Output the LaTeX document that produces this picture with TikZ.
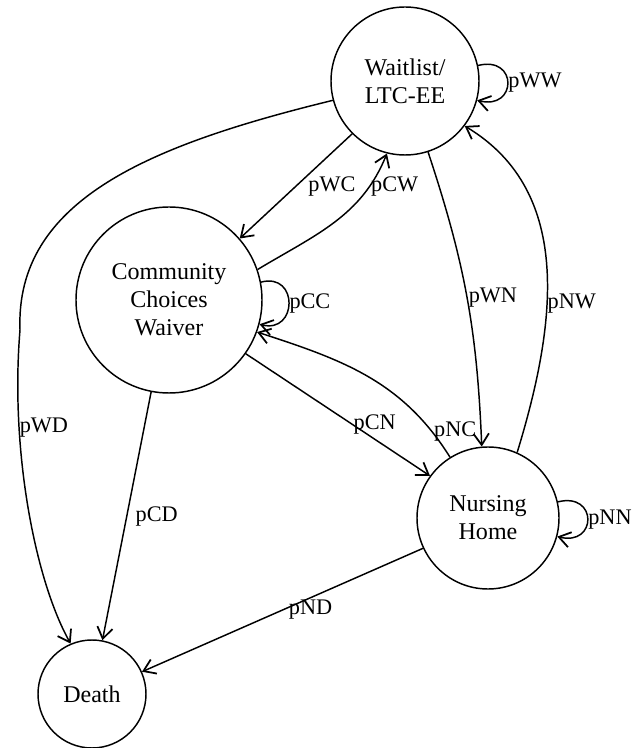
\documentclass[tikz,border=0pt]{standalone}
\usepackage{fontspec}
\setmainfont{Liberation Serif}
\usetikzlibrary{arrows.meta}

\begin{document}
\begin{tikzpicture}[x=0.03cm, y=0.03cm, line width=1.25pt,
  >={Straight Barb[length=3.4mm,width=4.6mm,line width=1.5pt]},
  state/.style={circle, draw, inner sep=0pt, align=center, font=\fontsize{20.5}{24}\selectfont},
  prob/.style={inner sep=1pt, font=\fontsize{19}{22}\selectfont}]

\useasboundingbox (0,0) rectangle (633,748);

\node[state, minimum size=4.44cm] (W) at (405,667) {Waitlist/\\LTC-EE};
\node[state, minimum size=5.58cm] (C) at (169,448) {Community\\Choices\\Waiver};
\node[state, minimum size=4.26cm] (N) at (488,230) {Nursing\\Home};
\node[state, minimum size=3.24cm] (D) at (92,54) {Death};

\draw[->] (W.12) .. controls +(40,10) and +(40,-10) .. node[prob, right, inner sep=0pt]{pWW} (W.345);
\draw[->] (C.11) .. controls +(38,10) and +(38,-10) .. node[prob, right, inner sep=0pt]{pCC} (C.345);
\draw[->] (N.13) .. controls +(40,10) and +(40,-10) .. node[prob, right, inner sep=0pt]{pNN} (N.345);

\draw[->] (W.225) -- node[prob, pos=0.5, right=9pt]{pWC} (C.41);
\draw[->] (C.19) to[out=31, in=248] node[prob, pos=0.8, right]{pCW} (W.256);
\draw[->] (W.288) to[bend left=8] node[prob, right]{pWN} (N.95);
\draw[->] (N.66) to[out=73, in=-31] node[prob, pos=0.4, right, inner sep=0pt]{pNW} (W.323);
\draw[->] (C.325) -- node[prob, pos=0.7, above=3pt]{pCN} (N.144);
\draw[->] (N.122) to[out=122, in=-18] node[prob, pos=0.12, right]{pNC} (C.340);

\draw[->] (W.195) .. controls (150,603) and (15,548) .. (20,418)
  .. controls (10,298) and (35,168) .. node[prob, pos=0.27, right, inner sep=0pt]{pWD} (D.113);
\draw[->] (C.259) -- node[prob, pos=0.5, right=6pt]{pCD} (D.79);
\draw[->] (N.205) -- node[prob, pos=0.4, below]{pND} (D.24);

\end{tikzpicture}
\end{document}
